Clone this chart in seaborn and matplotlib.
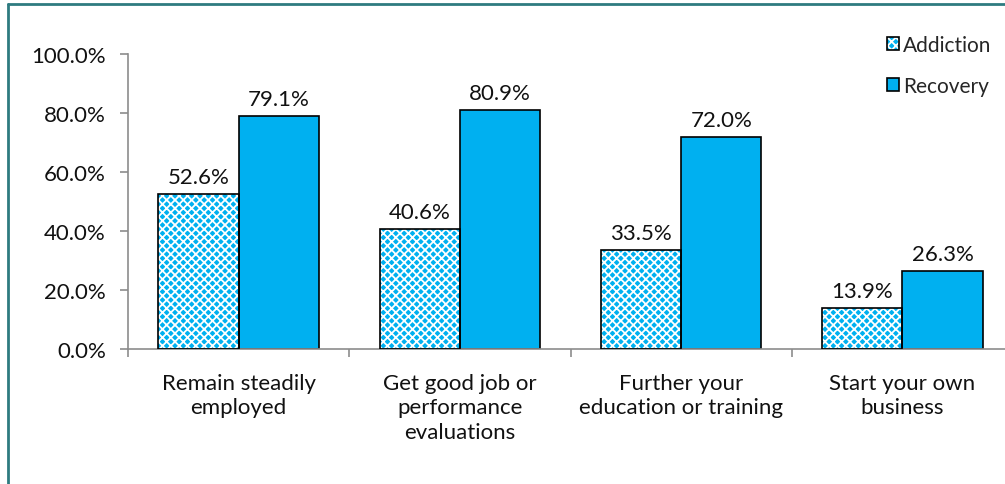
import matplotlib
matplotlib.use("Agg")
import matplotlib.pyplot as plt
from matplotlib.patches import Patch, Rectangle
from matplotlib.lines import Line2D
from matplotlib.legend_handler import HandlerTuple
import seaborn as sns
import pandas as pd

categories = [
    "Remain steadily\nemployed",
    "Get good job or\nperformance\nevaluations",
    "Further your\neducation or training",
    "Start your own\nbusiness",
]
series_names = ["Addiction", "Recovery"]
addiction = [52.6, 40.6, 33.5, 13.9]
recovery = [79.1, 80.9, 72.0, 26.3]
y_ticks = [0, 20, 40, 60, 80, 100]

df = pd.DataFrame({
    "category": categories * 2,
    "group": [series_names[0]] * 4 + [series_names[1]] * 4,
    "value": addiction + recovery,
})

sns.set_style("white")
plt.rcParams["font.family"] = ["Lato", "DejaVu Sans"]
plt.rcParams["hatch.linewidth"] = 1.3

cyan = "#00B0F0"
fs = 16
fig = plt.figure(figsize=(10.05, 4.85), dpi=100)
ax = fig.add_axes([0.1274, 0.2784, 0.8806, 0.6082])

sns.barplot(data=df, x="category", y="value", hue="group", order=categories,
            hue_order=series_names, palette=[cyan, cyan], width=0.725,
            gap=0, dodge=True, ax=ax, legend=False, saturation=1,
            edgecolor="black", linewidth=1.2)

# Checkered fill for the first series: white hatch over cyan, black outline on top
for bar in ax.containers[0]:
    bar.set_hatch("xxxx")
    bar.set_edgecolor("white")
    bar.set_linewidth(0)
    x, y = bar.get_xy()
    ax.add_patch(Rectangle((x, y), bar.get_width(), bar.get_height(),
                           fill=False, edgecolor="black", linewidth=1.2, zorder=3))

for cont, vals in zip(ax.containers, [addiction, recovery]):
    ax.bar_label(cont, labels=[f"{v:.1f}%" for v in vals], padding=5,
                 fontsize=fs, color="#111111")

ax.set_ylim(0, 100)
ax.set_xlim(-0.5, 3.5)
ax.set_yticks(y_ticks)
ax.set_yticklabels([f"{t:.1f}%" for t in y_ticks], fontsize=fs, color="#111111")
ax.set_xticks(range(4))
ax.set_xticklabels(categories, fontsize=fs, color="#111111", linespacing=1.3)
ax.set_xlabel("")
ax.set_ylabel("")

for side in ["top", "right"]:
    ax.spines[side].set_visible(False)
for side in ["left", "bottom"]:
    ax.spines[side].set_color("#8c8c8c")
    ax.spines[side].set_linewidth(1.2)

ax.tick_params(axis="y", direction="out", length=6, color="#8c8c8c", width=1.2, pad=10, left=True)
ax.tick_params(axis="x", length=0, pad=17)
# Category boundary ticks on the x axis
ax.set_xticks([i - 0.5 for i in range(5)], minor=True)
ax.tick_params(axis="x", which="minor", direction="out", length=6, color="#8c8c8c",
               width=1.2, bottom=True)

# Legend
hatched = Patch(facecolor=cyan, edgecolor="white", hatch="xxxx", linewidth=0)
outline = Patch(facecolor="none", edgecolor="black", linewidth=1.2)
solid = Patch(facecolor=cyan, edgecolor="black", linewidth=1.2)
fig.legend([(hatched, outline), solid], series_names,
           handler_map={tuple: HandlerTuple(ndivide=1)},
           loc="upper right", bbox_to_anchor=(0.997, 0.947), frameon=False,
           fontsize=15, handlelength=0.6, handleheight=0.6, handletextpad=0.2,
           labelspacing=1.0, borderpad=0)

# Outer frame edges
frame_color = "#2E7B80"
fig.add_artist(Line2D([8 / 1005, 8 / 1005], [0, 1 - 5 / 485], color=frame_color, lw=2))
fig.add_artist(Line2D([8 / 1005, 1], [1 - 5 / 485, 1 - 5 / 485], color=frame_color, lw=2))

fig.savefig("out.png", dpi=100)
